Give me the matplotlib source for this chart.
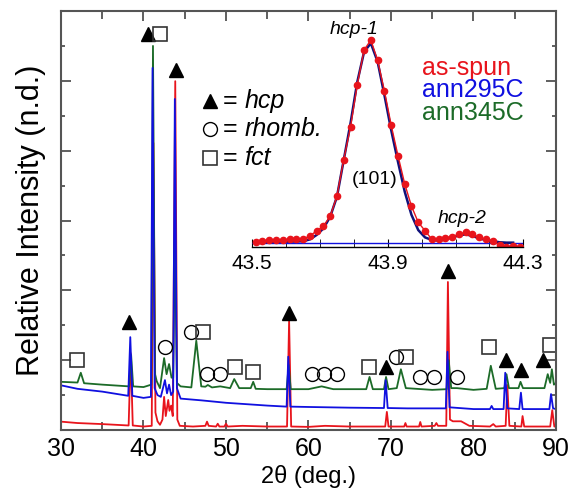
import numpy as np
import matplotlib
matplotlib.use("Agg")
import matplotlib.pyplot as plt
from matplotlib.ticker import MultipleLocator, FixedLocator

plt.rcParams['font.family'] = ['Liberation Sans', 'DejaVu Sans']

# main XRD traces (2theta, relative intensity)
red_x = [30, 32, 35, 38.2, 38.45, 38.7, 40, 41.0, 41.2, 41.45, 41.7, 42.0, 42.3, 42.5, 42.7,
         43.0, 43.15, 43.35, 43.55, 43.85, 44.1, 44.4, 46, 47.5, 47.7, 47.9, 48.8, 49.0, 49.2,
         49.8, 50.0, 50.2, 52, 55, 57.4, 57.65, 57.9, 60, 62, 65, 69.3, 69.5, 69.7, 71.6, 71.75,
         71.9, 73.4, 73.55, 73.7, 75.3, 75.5, 75.7, 76.7, 76.9, 77.15, 77.5, 78.5, 79.5, 82, 82.4,
         82.7, 83.9, 84.1, 84.35, 85.8, 85.95, 86.15, 89.3, 89.55, 89.8, 90]
red_y = [0.24, 0.2, 0.17, 0.13, 2.2, 0.13, 0.1, 0.12, 8.22, 0.5, 0.25, 0.15, 0.3, 0.95, 0.4,
         0.86, 0.55, 0.7, 0.4, 9.99, 0.3, 0.12, 0.1, 0.12, 0.24, 0.12, 0.1, 0.18, 0.1,
         0.1, 0.18, 0.1, 0.12, 0.1, 0.1, 3.13, 0.1, 0.09, 0.12, 0.1, 0.1, 0.52, 0.1, 0.1, 0.2,
         0.1, 0.1, 0.23, 0.1, 0.12, 0.2, 0.12, 0.12, 4.24, 0.3, 0.25, 0.25, 0.12, 0.1, 0.17,
         0.1, 0.12, 1.29, 0.12, 0.1, 0.4, 0.1, 0.1, 0.57, 0.1, 0.1]

blue_x = [30, 32, 35, 38.15, 38.4, 38.65, 40, 40.9, 41.1, 41.35, 41.7, 42.1, 42.6, 42.85, 43.1,
          43.35, 43.6, 43.8, 44.05, 44.5, 47, 50, 55, 57.35, 57.55, 57.8, 60, 65, 69.15, 69.35,
          69.6, 72, 75, 76.65, 76.85, 77.1, 80, 82.0, 82.2, 82.4, 83.65, 83.85, 84.1, 85.55,
          85.75, 85.95, 89.2, 89.4, 89.65, 90]
blue_y = [1.28, 1.18, 1.1, 0.98, 2.66, 0.98, 0.92, 0.95, 10.37, 1.2, 1.0, 0.95, 1.43, 1.05, 1.3,
          1.0, 1.1, 9.48, 1.2, 0.9, 0.85, 0.78, 0.7, 0.67, 2.1, 0.67, 0.66, 0.64, 0.63, 1.43,
          0.63, 0.62, 0.62, 0.62, 2.24, 0.65, 0.6, 0.6, 0.69, 0.6, 0.6, 1.64, 0.62, 0.6,
          1.07, 0.6, 0.6, 1.03, 0.62, 0.6]

green_x = [30, 32.0, 32.4, 32.8, 35, 38.25, 38.5, 38.75, 40, 40.95, 41.15, 41.4, 41.6, 42.0,
           42.5, 42.8, 43.1, 43.4, 43.6, 43.8, 44.05, 44.5, 45.8, 46.4, 47.0, 47.5, 47.8, 48.3,
           49.3, 50.5, 51.0, 51.6, 53.0, 53.3, 53.6, 55, 57.35, 57.6, 57.85, 60, 61.6, 63,
           67.0, 67.4, 67.8, 69.15, 69.4, 69.7, 70.7, 71.2, 71.8, 75, 76.75, 77.0, 77.3, 78,
           80, 81.6, 82.1, 82.7, 83.75, 84.0, 84.3, 85.45, 85.7, 86.0, 88.6, 89.0, 89.3, 89.5,
           89.75, 90]
green_y = [1.38, 1.36, 1.64, 1.34, 1.3, 1.25, 2.15, 1.25, 1.23, 1.3, 11.0, 1.6, 1.4, 1.2,
           2.06, 1.6, 1.89, 1.5, 1.5, 5.58, 1.35, 1.25, 1.22, 2.56, 1.25, 1.24, 1.29, 1.22,
           1.25, 1.2, 1.46, 1.2, 1.2, 1.38, 1.18, 1.17, 1.17, 1.86, 1.17, 1.17, 1.25, 1.17,
           1.17, 1.52, 1.17, 1.17, 1.52, 1.17, 1.2, 1.74, 1.2, 1.15, 1.17, 2.0, 1.2, 1.2,
           1.15, 1.18, 1.84, 1.18, 1.2, 1.6, 1.2, 1.2, 1.38, 1.2, 1.2, 1.6, 1.35, 1.74,
           1.3, 1.35]

# phase marks (2theta, height)
hcp_marks = [(40.5, 11.34), (44.0, 10.3), (38.3, 3.1), (57.6, 3.35), (69.4, 1.8),
             (76.9, 4.55), (83.9, 2.0), (85.8, 1.72), (88.4, 2.0)]
rhomb_marks = [(42.65, 2.38), (45.8, 2.8), (47.7, 1.6), (49.3, 1.6), (60.4, 1.6),
               (61.9, 1.6), (63.5, 1.6), (70.6, 2.1), (73.5, 1.52), (75.2, 1.52), (78.0, 1.52)]
fct_marks = [(42.0, 11.34), (32.0, 2.0), (47.2, 2.8), (51.1, 1.8), (53.3, 1.66),
             (67.3, 1.8), (71.8, 2.1), (81.9, 2.38), (89.3, 2.43)]

# inset: hcp (101) region
ins_x = [43.51 + 0.02 * k for k in range(40)]
ins_red = [0.002, 0.01, 0.013, 0.013, 0.015, 0.016, 0.016, 0.018, 0.033, 0.058, 0.082, 0.13,
           0.23, 0.41, 0.57, 0.78, 0.95, 1.0, 0.9, 0.75, 0.58, 0.43, 0.29, 0.18, 0.10, 0.059,
           0.016, 0.016, 0.025, 0.03, 0.041, 0.051, 0.041, 0.026, 0.016, 0.008, -0.012, -0.02,
           -0.016, -0.02]
ins_fit = [0.0, 0.002, 0.003, 0.004, 0.005, 0.005, 0.006, 0.007, 0.016, 0.038, 0.07, 0.128,
           0.227, 0.408, 0.589, 0.793, 0.941, 0.984, 0.893, 0.729, 0.556, 0.400, 0.252, 0.137,
           0.062, 0.026, 0.013, 0.01, 0.016, 0.026, 0.036, 0.041, 0.033, 0.021, 0.013, 0.007,
           0.002, 0.0, 0.0]

RED = '#e8141c'
BLUE = '#1010e0'
GREEN = '#1c6b28'

fig = plt.figure(figsize=(5.7, 4.98), dpi=100)
ax = fig.add_axes([0.107, 0.1365, 0.8684, 0.8414])

ax.plot(red_x, red_y, color=RED, lw=1.3)
ax.plot(green_x, green_y, color=GREEN, lw=1.3)
ax.plot(blue_x, blue_y, color=BLUE, lw=1.3)

for x, y in hcp_marks:
    ax.plot(x, y, marker='^', ms=10, color='black', clip_on=False)
for x, y in rhomb_marks:
    ax.plot(x, y, marker='o', ms=10, mfc='none', mec='black', mew=1.0)
for x, y in fct_marks:
    ax.plot(x, y, marker='s', ms=9.5, mfc='none', mec='#333333', mew=1.2)

# key for the phase marks
key_rows = [(0.785, 'hcp'), (0.718, 'rhomb.'), (0.649, 'fct')]
ax.plot(0.302, key_rows[0][0], marker='^', ms=10, color='black', transform=ax.transAxes)
ax.plot(0.302, key_rows[1][0], marker='o', ms=10, mfc='none', mec='black', transform=ax.transAxes)
ax.plot(0.302, key_rows[2][0], marker='s', ms=9.5, mfc='none', mec='#333333', mew=1.2,
        transform=ax.transAxes)
for yy, name in key_rows:
    ax.text(0.341, yy, '=', fontsize=18, va='center', ha='center', transform=ax.transAxes)
    ax.text(0.371, yy, name, fontsize=18, style='italic', va='center', transform=ax.transAxes)

ax.set_xlim(30, 90)
ax.set_ylim(0, 12)
ax.xaxis.set_major_locator(MultipleLocator(10))
ax.xaxis.set_minor_locator(MultipleLocator(5))
ax.yaxis.set_major_locator(MultipleLocator(2))
ax.yaxis.set_minor_locator(MultipleLocator(1))
ax.set_yticklabels([])
ax.tick_params(which='both', direction='in', top=True, right=True, color='#444444', width=1.2)
ax.tick_params(which='major', length=7, labelsize=18, pad=5)
ax.tick_params(axis='x', which='minor', length=6)
ax.tick_params(axis='y', which='minor', length=3)
for s in ax.spines.values():
    s.set_color('#555555')
    s.set_linewidth(1.5)
ax.set_xlabel('2θ (deg.)', fontsize=17, labelpad=3)
ax.set_ylabel('Relative Intensity (n.d.)', fontsize=22, labelpad=6)

# legend as coloured text
for yy, name, c in [(0.8635, 'as-spun', RED), (0.819, 'ann295C', BLUE), (0.773, 'ann345C', GREEN)]:
    fig.text(0.74, yy, name, color=c, fontsize=18, va='center')

# inset
ins = fig.add_axes([0.4426, 0.5034, 0.4754, 0.4566])
ins.patch.set_alpha(0)
ins.hlines(0, 43.5, 44.3, color=BLUE, lw=1)
ins.plot(ins_x[:39], ins_fit, color='#10107a', lw=1.8)
ins.plot(ins_x, ins_red, color=RED, lw=1, marker='o', ms=4.5)
ins.set_xlim(43.5, 44.3)
ins.set_ylim(-0.023, 1.099)
for s in ['top', 'right', 'left']:
    ins.spines[s].set_visible(False)
ins.spines['bottom'].set_linewidth(1)
ins.set_yticks([])
ins.xaxis.set_major_locator(FixedLocator([43.5, 43.9, 44.3]))
ins.xaxis.set_minor_locator(MultipleLocator(0.1))
ins.tick_params(which='both', direction='in', length=6, labelsize=15, pad=5)
ins.set_xticklabels(['43.5', '43.9', '44.3'])
ins.text(43.8, 1.05, 'hcp-1', style='italic', fontsize=14, ha='center', va='center')
ins.text(43.86, 0.31, '(101)', fontsize=14, ha='center', va='center')
ins.text(44.12, 0.12, 'hcp-2', style='italic', fontsize=14, ha='center', va='center')

fig.savefig('out.png', dpi=100)
